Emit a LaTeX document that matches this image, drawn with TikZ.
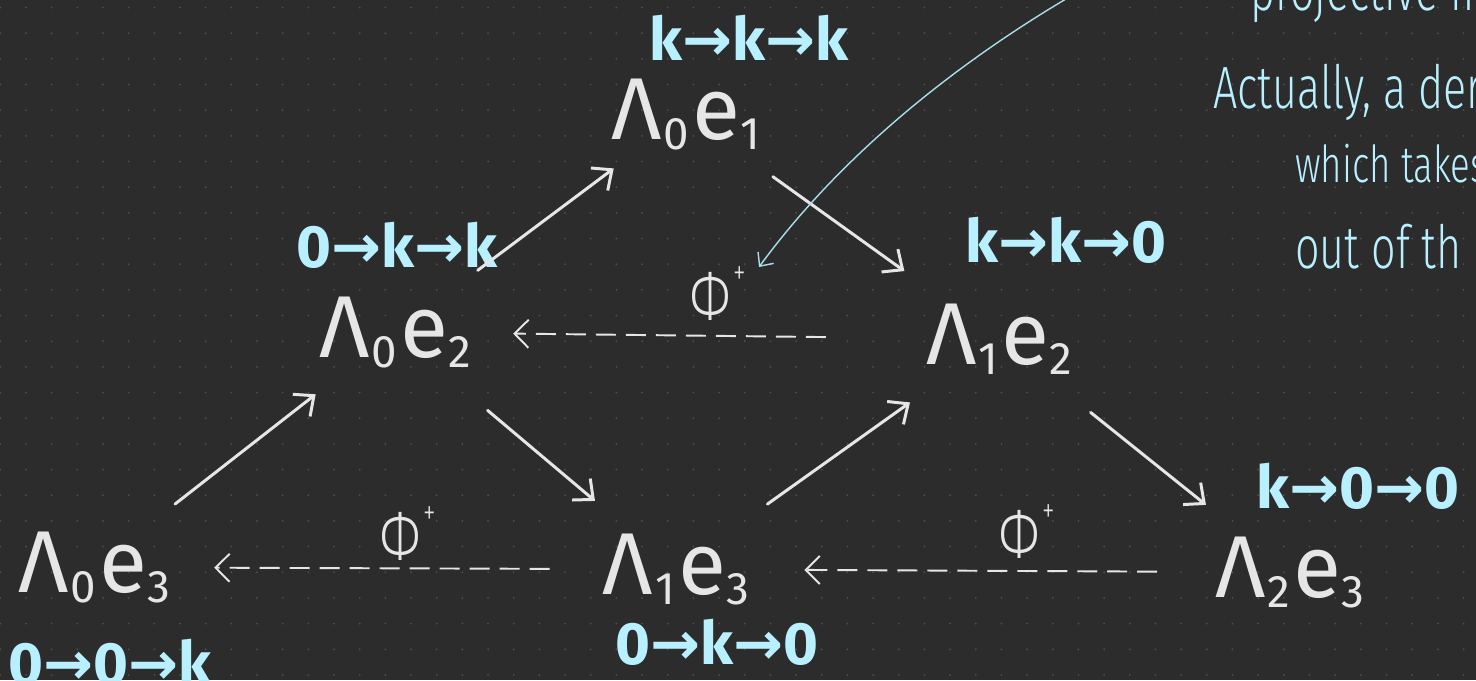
\documentclass[tikz,border=0pt]{standalone}
\usepackage{fontspec}
\setmainfont{Fira Sans}
\newfontfamily\handfont[FakeStretch=0.72]{Fira Sans Light}
\newfontfamily\arrowfont{DejaVu Sans}
\usetikzlibrary{arrows.meta}

\definecolor{board}{HTML}{2C2C2C}
\definecolor{gridDot}{HTML}{505050}
\definecolor{chalk}{HTML}{E6E6E6}
\definecolor{ice}{HTML}{B8F0FF}
\definecolor{icethin}{HTML}{A8DEEC}

% exterior power object, e.g. \wedgeobj{0}{1}
\newcommand{\wedgeobj}[2]{Λ\kern0.02em\lower0.12em\hbox{\fontsize{26}{26}\selectfont#1}\kern0.04em e\lower0.12em\hbox{\fontsize{26}{26}\selectfont#2}}
\newcommand{\arr}{{\arrowfont →}}
\newcommand{\phiplus}{Φ\kern0.05em\raisebox{0.5em}{\fontsize{20}{20}\selectfont+}}

\begin{document}
\begin{tikzpicture}[
  x=0.02cm, y=-0.02cm,
  every node/.style={inner sep=0pt},
  obj/.style={text=chalk, anchor=base, font=\fontsize{50}{60}\selectfont},
  dims/.style={text=ice, anchor=base, font=\fontsize{34}{40}\selectfont\bfseries},
  note/.style={text=ice, anchor=base west, font={\handfont\fontsize{34}{40}\selectfont}},
  philabel/.style={text=chalk, anchor=base, font={\handfont\fontsize{40}{44}\selectfont}},
  arrow/.style={draw=chalk, line width=1.7pt, line cap=round, -{Straight Barb[length=9pt,width=16pt]}},
  darrow/.style={draw=chalk, line width=1.1pt, dash pattern=on 0.4cm off 0.2cm, -{Straight Barb[length=8pt,width=16pt]}},
  pointer/.style={draw=icethin, line width=0.8pt, -{Straight Barb[length=6pt,width=11pt]}}]

  \useasboundingbox (0,0) rectangle (1476,680);
  \fill[board] (0,0) rectangle (1476,680);
  \clip (0,0) rectangle (1476,680);

  % dotted grid
  \foreach \i in {0,...,57}
    \foreach \j in {0,...,26}
      \fill[gridDot] (0.3+25.67*\i,7.5+25.67*\j) circle[radius=0.02cm];

  % vertices
  \node[obj] (l0e1) at (686,139) {\wedgeobj{0}{1}};
  \node[obj] (l0e2) at (395,357) {\wedgeobj{0}{2}};
  \node[obj] (l1e2) at (999,364) {\wedgeobj{1}{2}};
  \node[obj] (l0e3) at (94,592)  {\wedgeobj{0}{3}};
  \node[obj] (l1e3) at (676,594) {\wedgeobj{1}{3}};
  \node[obj] (l2e3) at (1290,597) {\wedgeobj{2}{3}};

  % dimension vectors
  \node[dims] (d0e1) at (749,60)  {k\arr k\arr k};
  \node[dims] (d0e2) at (397,267) {0\arr k\arr k};
  \node[dims] (d1e2) at (1066,262) {k\arr k\arr 0};
  \node[dims, anchor=base west] (d2e3) at (1256,508) {k\arr 0\arr 0};
  \node[dims] (d0e3) at (110,684) {0\arr 0\arr k};
  \node[dims] (d1e3) at (717,664) {0\arr k\arr 0};

  % maps
  \draw[arrow, shorten <=0.86cm, shorten >=0.6cm] (l0e2) -- (l0e1);
  \draw[arrow, shorten <=0.9cm, shorten >=1.1cm]  (l0e1) -- (l1e2);
  \draw[arrow, shorten <=0.88cm, shorten >=0.84cm] (l0e3) -- (l0e2);
  \draw[arrow, shorten <=1.3cm, shorten >=1.0cm]  (l0e2) -- (l1e3);
  \draw[arrow, shorten <=1.0cm, shorten >=0.95cm] (l1e3) -- (l1e2);
  \draw[arrow, shorten <=1.2cm, shorten >=1.0cm]  (l1e2) -- (l2e3);

  % Phi^+ maps
  \draw[darrow, shorten <=2.0cm, shorten >=0.84cm] (l1e2) -- (l0e2);
  \draw[darrow, shorten <=1.06cm, shorten >=0.88cm] (l1e3) -- (l0e3);
  \draw[darrow, shorten <=1.16cm, shorten >=1.1cm] (l2e3) -- (l1e3);
  \node[philabel] (phi1) at (718,320)  {\phiplus};
  \node[philabel] (phi2) at (408,560)  {\phiplus};
  \node[philabel] (phi3) at (1027,558) {\phiplus};

  % side notes
  \node[note] (n0) at (1250,10)  {projective mod};
  \node[note] (n1) at (1213,108) {Actually, a der};
  \node[note, font={\handfont\fontsize{29}{34}\selectfont}] (n2) at (1295,182) {which takes};
  \node[note] (n3) at (1295,268) {out of th};

  \coordinate (ptrstart) at (1090,-15);
  \coordinate (ptrtip) at (759,267);
  \draw[pointer] (ptrstart) .. controls (940,70) and (830,170) .. (ptrtip);
\end{tikzpicture}
\end{document}
